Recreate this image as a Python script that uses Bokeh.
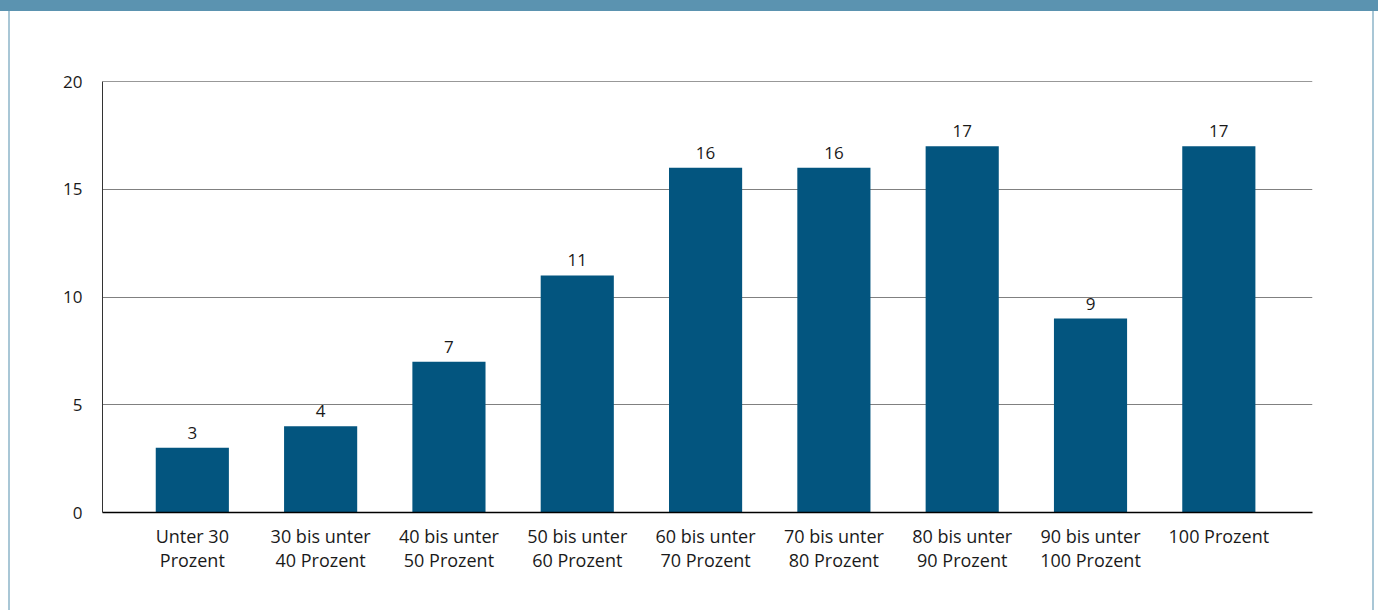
from bokeh.plotting import figure
from bokeh.models import Div, FixedTicker, ColumnDataSource, Span
from bokeh.layouts import column
from bokeh.core.properties import value
from bokeh.embed import file_html
from bokeh.resources import INLINE

categories = ["Unter 30\nProzent", "30 bis unter\n40 Prozent", "40 bis unter\n50 Prozent",
              "50 bis unter\n60 Prozent", "60 bis unter\n70 Prozent", "70 bis unter\n80 Prozent",
              "80 bis unter\n90 Prozent", "90 bis unter\n100 Prozent", "100 Prozent"]
values = [3, 4, 7, 11, 16, 16, 17, 9, 17]
y_ticks = [0, 5, 10, 15, 20]

FONT = "Open Sans"
TEXT = "#1a1a1a"
BAR = "#03557f"
HEADER = "#5b93b0"

xs = list(range(len(categories)))
src = ColumnDataSource(dict(x=xs, y=values, label=[str(v) for v in values]))

p = figure(width=1366, height=599, output_backend="svg", toolbar_location=None,
           x_range=(-0.70, 8.73), y_range=(0, 20),
           min_border_left=92, min_border_right=64, min_border_top=70, min_border_bottom=98,
           background_fill_color="white", border_fill_color="white",
           margin=(0, 0, 0, 8))
p.styles = {"border-left": "2px solid #a9c7d6", "border-right": "2px solid #a9c7d6"}
p.outline_line_color = None

p.vbar(x="x", top="y", width=0.57, source=src, color=BAR, line_color=None)
p.text(x="x", y="y", text="label", source=src, text_align="center", text_baseline="bottom",
       y_offset=-9, text_font=value(FONT), text_font_size="17px", text_color=TEXT)

p.xgrid.grid_line_color = None
p.ygrid.grid_line_color = "#808080"
p.ygrid.grid_line_width = 1
p.ygrid.ticker = FixedTicker(ticks=y_ticks)
p.add_layout(Span(location=y_ticks[-1], dimension="width", line_color="#333333", line_width=1))

p.yaxis.ticker = FixedTicker(ticks=y_ticks)
p.yaxis.axis_line_color = "#333333"
p.yaxis.major_tick_line_color = None
p.yaxis.minor_tick_line_color = None
p.yaxis.major_label_standoff = 14
p.yaxis.major_label_text_font = FONT
p.yaxis.major_label_text_font_size = "17px"
p.yaxis.major_label_text_color = TEXT

p.xaxis.ticker = FixedTicker(ticks=xs)
p.xaxis.major_label_overrides = {i: c for i, c in enumerate(categories)}
p.xaxis.axis_line_color = "black"
p.xaxis.axis_line_width = 1.5
p.xaxis.major_tick_line_color = None
p.xaxis.minor_tick_line_color = None
p.xaxis.major_label_standoff = 5
p.xaxis.major_label_text_font = FONT
p.xaxis.major_label_text_font_size = "18px"
p.xaxis.major_label_text_line_height = 1.0
p.xaxis.major_label_text_color = TEXT

header = Div(text="", width=1378, height=11, margin=(0, 0, 0, 0),
             styles={"background-color": HEADER, "width": "1378px", "height": "11px"})

layout = column(header, p, spacing=0)
open("out.html", "w").write(file_html(layout, INLINE))
